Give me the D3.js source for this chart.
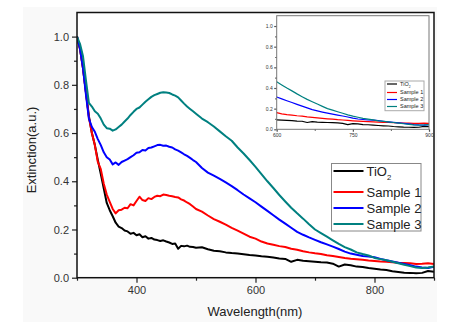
<!DOCTYPE html>
<html>
<head>
<meta charset="utf-8">
<script src="https://cdn.jsdelivr.net/npm/d3@7"></script>
<style>
  body { margin: 0; background: #fff; }
  svg { display: block; font-family: "Liberation Sans", Arial, sans-serif; }
</style>
</head>
<body>
<svg id="chart" width="456" height="329"></svg>
<script>
// wavelength grid (nm): 5 nm steps to 500, then 10 nm steps
const wavelengths = [300, 305, 310, 315, 320, 325, 330, 335, 340, 345, 350, 355, 360, 365, 370, 375, 380, 385, 390, 395,
  400, 405, 410, 415, 420, 425, 430, 435, 440, 445, 450, 455, 460, 465, 470, 475, 480, 485, 490, 495, 500,
  510, 520, 530, 540, 550, 560, 570, 580, 590, 600,
  610, 620, 630, 640, 650, 660, 670, 680, 690, 700,
  710, 720, 730, 740, 750, 760, 770, 780, 790, 800,
  810, 820, 830, 840, 850, 860, 870, 880, 890, 900];

const tio2 = [1.0, 0.95, 0.87, 0.77, 0.67, 0.60, 0.55, 0.488, 0.43, 0.37, 0.31, 0.28, 0.255, 0.228, 0.212, 0.206, 0.196, 0.192, 0.182, 0.186,
  0.176, 0.18, 0.168, 0.172, 0.162, 0.165, 0.158, 0.156, 0.152, 0.155, 0.150, 0.146, 0.140, 0.142, 0.12, 0.132, 0.13, 0.133, 0.128, 0.127, 0.124,
  0.126, 0.118, 0.112, 0.11, 0.105, 0.102, 0.100, 0.097, 0.094, 0.092,
  0.089, 0.087, 0.084, 0.080, 0.078, 0.066, 0.074, 0.070, 0.068, 0.066,
  0.064, 0.063, 0.058, 0.046, 0.055, 0.052, 0.046, 0.044, 0.040, 0.037,
  0.034, 0.032, 0.027, 0.024, 0.021, 0.020, 0.018, 0.020, 0.028, 0.025];

const sample1 = [1.0, 0.95, 0.87, 0.77, 0.665, 0.60, 0.55, 0.48, 0.45, 0.39, 0.345, 0.315, 0.285, 0.267, 0.28, 0.282, 0.29, 0.288, 0.305, 0.30,
  0.318, 0.336, 0.322, 0.318, 0.33, 0.326, 0.335, 0.34, 0.338, 0.345, 0.343, 0.34, 0.338, 0.335, 0.333, 0.325, 0.32, 0.312, 0.305, 0.295, 0.285,
  0.274, 0.258, 0.243, 0.232, 0.22, 0.207, 0.195, 0.183, 0.17, 0.162,
  0.15, 0.142, 0.137, 0.131, 0.127, 0.12, 0.116, 0.11, 0.105, 0.101,
  0.098, 0.093, 0.09, 0.086, 0.082, 0.079, 0.077, 0.074, 0.071, 0.069,
  0.067, 0.066, 0.064, 0.062, 0.061, 0.060, 0.057, 0.058, 0.060, 0.057];

const sample2 = [1.0, 0.95, 0.87, 0.76, 0.66, 0.625, 0.605, 0.575, 0.55, 0.52, 0.50, 0.49, 0.47, 0.478, 0.468, 0.48, 0.486, 0.492, 0.50, 0.508,
  0.518, 0.52, 0.53, 0.528, 0.538, 0.54, 0.545, 0.55, 0.551, 0.547, 0.548, 0.543, 0.54, 0.532, 0.527, 0.52, 0.512, 0.505, 0.497, 0.488, 0.48,
  0.455, 0.436, 0.423, 0.41, 0.395, 0.38, 0.363, 0.345, 0.329, 0.313,
  0.295, 0.277, 0.259, 0.241, 0.224, 0.207, 0.19, 0.178, 0.167, 0.157,
  0.147, 0.138, 0.129, 0.119, 0.108, 0.10, 0.095, 0.09, 0.088, 0.085,
  0.078, 0.072, 0.067, 0.062, 0.057, 0.052, 0.046, 0.042, 0.040, 0.045];

const sample3 = [1.0, 0.97, 0.92, 0.82, 0.725, 0.71, 0.69, 0.68, 0.66, 0.635, 0.62, 0.618, 0.61, 0.615, 0.625, 0.635, 0.648, 0.66, 0.675, 0.688,
  0.70, 0.706, 0.718, 0.73, 0.74, 0.75, 0.757, 0.762, 0.767, 0.769, 0.768, 0.766, 0.76, 0.755, 0.748, 0.735, 0.722, 0.71, 0.70, 0.69, 0.68,
  0.66, 0.645, 0.627, 0.607, 0.587, 0.568, 0.54, 0.515, 0.488, 0.46,
  0.43, 0.40, 0.372, 0.343, 0.316, 0.29, 0.267, 0.245, 0.222, 0.20,
  0.185, 0.17, 0.155, 0.14, 0.127, 0.117, 0.105, 0.098, 0.092, 0.082,
  0.077, 0.072, 0.066, 0.06, 0.054, 0.048, 0.042, 0.040, 0.042, 0.046];

const seriesNames = ["TiO2", "Sample 1", "Sample 2", "Sample 3"];
const seriesValues = [tio2, sample1, sample2, sample3];
const seriesColors = ["#000000", "#ff0000", "#0000ff", "#008080"];

const xTicks = [400, 600, 800];
const yTicks = [0, 0.2, 0.4, 0.6, 0.8, 1.0];
const insetXTicks = [600, 750, 900];

const svg = d3.select("#chart");

// faint page backdrop
svg.append("rect").attr("x", 23).attr("y", 7).attr("width", 414).attr("height", 315).attr("fill", "#f9f9f9");

const series = seriesValues.map((vals, i) => ({
  name: seriesNames[i],
  color: seriesColors[i],
  points: wavelengths.map((w, j) => [w, vals[j]])
}));

// ---------- main plot ----------
const plot = { left: 77, right: 434, top: 12.5, bottom: 277.7 };
const x = d3.scaleLinear().domain([300, 900]).range([plot.left, plot.right]);
const y = d3.scaleLinear().domain([0, 1.1]).range([plot.bottom, plot.top]);

svg.append("rect").attr("x", plot.left).attr("y", plot.top)
  .attr("width", plot.right - plot.left).attr("height", plot.bottom - plot.top).attr("fill", "#fff");

svg.append("clipPath").attr("id", "mainClip").append("rect")
  .attr("x", plot.left).attr("y", plot.top)
  .attr("width", plot.right - plot.left).attr("height", plot.bottom - plot.top);

const line = d3.line().x(d => x(d[0])).y(d => y(d[1]));

svg.append("g").attr("clip-path", "url(#mainClip)")
  .selectAll("path").data(series).join("path")
  .attr("d", d => line(d.points))
  .attr("fill", "none").attr("stroke", d => d.color)
  .attr("stroke-width", 2).attr("stroke-linejoin", "round");

function styleAxis(g, color, fontSize) {
  g.select(".domain").remove();
  g.selectAll(".tick line").attr("stroke", color).attr("stroke-width", 1.2);
  g.selectAll(".tick text").attr("fill", "#333").attr("font-size", fontSize)
    .attr("font-family", "Liberation Sans, Arial, sans-serif");
}

// minor ticks
svg.append("g").attr("transform", `translate(0,${plot.bottom})`)
  .call(d3.axisBottom(x).tickValues([300, 500, 700, 900]).tickSize(3).tickFormat(""))
  .call(g => styleAxis(g, "#222", 11));
svg.append("g").attr("transform", `translate(${plot.left},0)`)
  .call(d3.axisLeft(y).tickValues([0.1, 0.3, 0.5, 0.7, 0.9]).tickSize(3).tickFormat(""))
  .call(g => styleAxis(g, "#222", 11));

// major ticks
svg.append("g").attr("transform", `translate(0,${plot.bottom})`)
  .call(d3.axisBottom(x).tickValues(xTicks).tickSize(5).tickPadding(4).tickFormat(d3.format("d")))
  .call(g => styleAxis(g, "#222", 11));
svg.append("g").attr("transform", `translate(${plot.left},0)`)
  .call(d3.axisLeft(y).tickValues(yTicks).tickSize(5).tickPadding(3).tickFormat(d3.format(".1f")))
  .call(g => styleAxis(g, "#222", 11));

svg.append("rect").attr("x", plot.left).attr("y", plot.top)
  .attr("width", plot.right - plot.left).attr("height", plot.bottom - plot.top)
  .attr("fill", "none").attr("stroke", "#111").attr("stroke-width", 1.5);

svg.append("text").attr("x", 255).attr("y", 316).attr("text-anchor", "middle")
  .attr("font-size", 13).attr("fill", "#222").text("Wavelength(nm)");
svg.append("text").attr("transform", "translate(36,150) rotate(-90)").attr("text-anchor", "middle")
  .attr("font-size", 13).attr("fill", "#222").text("Extinction(a.u.)");

// legend
function drawLegend(g, box, rowsY, lineLen, fontSize, strokeW, borderColor) {
  g.append("rect").attr("x", box.x).attr("y", box.y).attr("width", box.w).attr("height", box.h)
    .attr("fill", "#fff").attr("stroke", borderColor).attr("stroke-width", 1);
  series.forEach((s, i) => {
    const ry = rowsY[i];
    g.append("line").attr("x1", box.x + 2).attr("x2", box.x + 2 + lineLen)
      .attr("y1", ry).attr("y2", ry).attr("stroke", s.color).attr("stroke-width", strokeW);
    const t = g.append("text").attr("x", box.x + 5 + lineLen).attr("y", ry + fontSize * 0.36)
      .attr("font-size", fontSize).attr("fill", "#222");
    if (s.name === "TiO2") {
      t.append("tspan").text("TiO");
      t.append("tspan").attr("font-size", fontSize * 0.6).attr("dy", fontSize * 0.3).text("2");
    } else {
      t.text(s.name);
    }
  });
}

drawLegend(svg.append("g"), { x: 331.5, y: 163.5, w: 89.5, h: 67.5 }, [171, 192, 208, 224], 30, 13, 2, "#888");

// ---------- inset (600-900 nm) ----------
const inset = { left: 276.7, right: 429, top: 15.7, bottom: 129.3 };
const xi = d3.scaleLinear().domain([600, 900]).range([inset.left, inset.right]);
const yi = d3.scaleLinear().domain([0, 1.1]).range([inset.bottom, inset.top]);

svg.append("clipPath").attr("id", "insetClip").append("rect")
  .attr("x", inset.left).attr("y", inset.top)
  .attr("width", inset.right - inset.left).attr("height", inset.bottom - inset.top);

const insetLine = d3.line().x(d => xi(d[0])).y(d => yi(d[1]));
svg.append("g").attr("clip-path", "url(#insetClip)")
  .selectAll("path").data(series).join("path")
  .attr("d", d => insetLine(d.points.filter(p => p[0] >= 590)))
  .attr("fill", "none").attr("stroke", d => d.color)
  .attr("stroke-width", 1.2).attr("stroke-linejoin", "round");

svg.append("g").attr("transform", `translate(0,${inset.bottom})`)
  .call(d3.axisBottom(xi).tickValues([675, 825]).tickSize(1.5).tickFormat(""))
  .call(g => styleAxis(g, "#555", 5));
svg.append("g").attr("transform", `translate(${inset.left},0)`)
  .call(d3.axisLeft(yi).tickValues([0.1, 0.3, 0.5, 0.7, 0.9]).tickSize(1.5).tickFormat(""))
  .call(g => styleAxis(g, "#555", 5));
svg.append("g").attr("transform", `translate(0,${inset.bottom})`)
  .call(d3.axisBottom(xi).tickValues(insetXTicks).tickSize(2.5).tickPadding(1.5).tickFormat(d3.format("d")))
  .call(g => styleAxis(g, "#555", 5));
svg.append("g").attr("transform", `translate(${inset.left},0)`)
  .call(d3.axisLeft(yi).tickValues(yTicks).tickSize(2.5).tickPadding(1.5).tickFormat(d3.format(".1f")))
  .call(g => styleAxis(g, "#555", 5));

svg.append("rect").attr("x", inset.left).attr("y", inset.top)
  .attr("width", inset.right - inset.left).attr("height", inset.bottom - inset.top)
  .attr("fill", "none").attr("stroke", "#777").attr("stroke-width", 1);

drawLegend(svg.append("g"), { x: 385, y: 81, w: 39, h: 29.7 }, [84, 92.5, 99.5, 106.5], 10, 5.5, 1.2, "#aaa");
</script>
</body>
</html>
